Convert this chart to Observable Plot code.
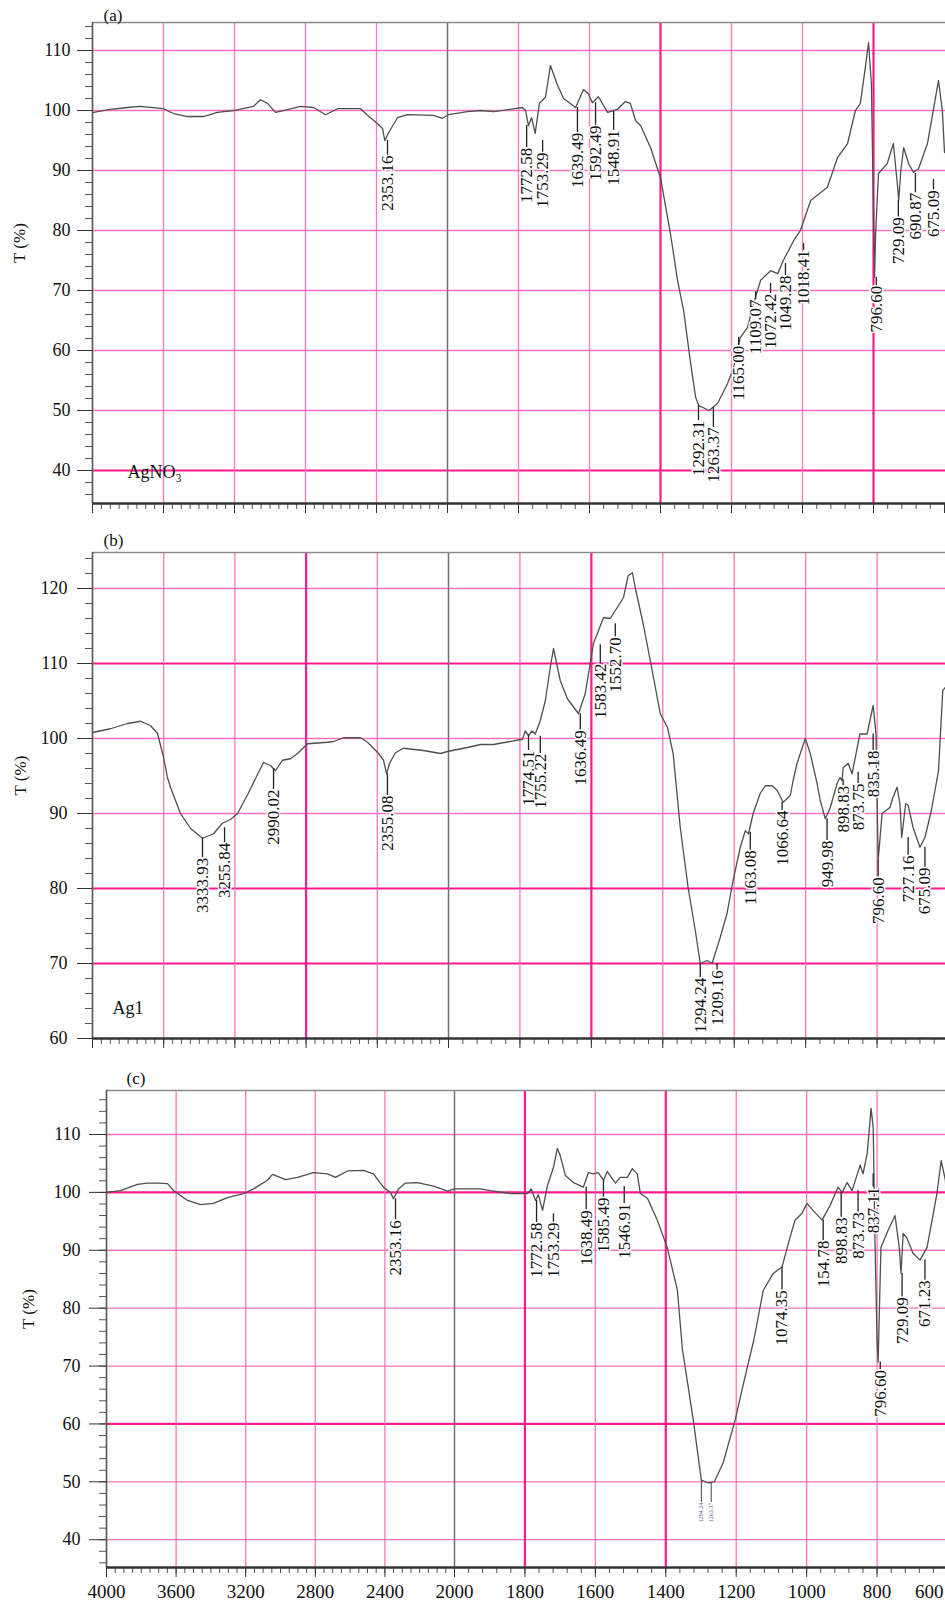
<!DOCTYPE html>
<html><head><meta charset="utf-8">
<script src="https://cdn.jsdelivr.net/npm/d3@7"></script>
<script src="https://cdn.jsdelivr.net/npm/@observablehq/plot@0.6"></script>
<style>
body{margin:0;background:#fff;}
#chart svg{display:block;}
</style></head><body><div id="chart"></div>
<script>
// ---------- data ----------
const xTickValues = [4000,3600,3200,2800,2400,2000,1800,1600,1400,1200,1000,800,600];
const xTickLabels = ["4000","3600","3200","2800","2400","2000","1800","1600","1400","1200","1000","800","600"];

// panel (a) AgNO3 : [wavenumber, T%]
const specA = [[3994,99.7],[3900,100.2],[3803,100.5],[3730,100.7],[3600,100.3],[3544,99.5],[3465,99.0],[3375,99.0],[3296,99.7],[3206,100],[3093,100.7],[3054,101.8],[3014,101.2],[2969,99.7],[2924,100],[2828,100.7],[2755,100.5],[2687,99.3],[2620,100.3],[2490,100.3],[2451,99.2],[2394,97.8],[2366,97],[2353,95],[2332,96.3],[2282,98.8],[2225,99.3],[2079,99.2],[2028,98.7],[1997,99.3],[1944,99.8],[1907,100],[1870,99.8],[1789,100.5],[1780,100],[1772,97.5],[1763,98.8],[1753,96.2],[1741,101.2],[1724,102.2],[1710,107.5],[1690,104.2],[1673,102],[1639,100.5],[1617,103.5],[1603,102.8],[1592,101.3],[1575,102.3],[1549,99.7],[1521,100.2],[1499,101.5],[1485,101.2],[1470,98.3],[1456,97.5],[1428,93.8],[1400,88.8],[1372,79.5],[1352,71.7],[1335,66.7],[1315,57.8],[1301,52.2],[1292,50.8],[1263,50],[1239,51.2],[1211,54.5],[1194,57.2],[1175,62.2],[1155,63.8],[1138,67.8],[1118,71.7],[1090,73.3],[1070,72.8],[1054,75],[1025,78.3],[1006,80],[977,85],[930,87.2],[901,92.2],[873,94.5],[851,100],[837,101.2],[823,107.2],[814,111.3],[806,104.5],[797,72.2],[794,79.5],[786,89.5],[761,91.2],[744,94.5],[732,87.2],[729,85],[723,90],[715,93.8],[700,91],[687,89.7],[673,90.3],[648,94.5],[617,105],[606,100],[600,93]];
// [label, wavenumber drawn at, leader start T, text top T]
const labelsA = [["2353.16",2338,95,92.5],["1772.58",1777,97.5,93.8],["1753.29",1732,95,93],["1639.49",1634,100.5,96.3],["1592.49",1583,101.3,97.5],["1548.91",1532,99.9,96.7],["1292.31",1293,50.8,48.3],["1263.37",1251,50.5,47.2],["1165.00",1180,62.2,60.8],["1109.07",1132,69.8,68.5],["1072.42",1090,71.2,69.5],["1049.28",1048,74.5,72.5],["1018.41",997,77.8,76.7],["796.60",792,72.2,70.8],["729.09",730,85,82.2],["690.87",682,89.5,86.3],["675.09",631,88.5,86.7]];

// panel (b) Ag1
const specB = [[4000,100.8],[3899,101.3],[3803,102],[3730,102.3],[3674,101.7],[3635,100.7],[3601,97.5],[3579,94.8],[3562,93.5],[3506,90],[3449,88],[3382,86.7],[3320,87.3],[3270,88.7],[3225,89.2],[3185,90],[3129,92.5],[3073,95.2],[3039,96.8],[3000,96.4],[2972,95.7],[2933,97.1],[2888,97.3],[2848,98],[2792,99.3],[2680,99.5],[2646,99.6],[2590,100.1],[2494,100.1],[2455,99.5],[2393,98],[2365,97.1],[2348,95.3],[2331,96.7],[2298,98.1],[2253,98.7],[2140,98.4],[2045,98],[2000,98.3],[1947,98.8],[1910,99.2],[1874,99.2],[1793,99.9],[1785,101],[1776,100.4],[1766,101],[1757,100.6],[1743,102.4],[1729,105],[1715,109.5],[1706,112],[1687,107.7],[1667,105.3],[1636,103.3],[1617,106],[1594,112.7],[1566,116.1],[1547,116],[1527,117.5],[1510,118.8],[1497,121.7],[1485,122.1],[1477,120.1],[1455,115.3],[1435,110.4],[1407,103.3],[1387,101.5],[1371,98],[1351,88.1],[1329,80.1],[1309,74.4],[1295,70],[1276,70.4],[1262,70],[1239,73.5],[1220,76.7],[1203,81.1],[1183,85.5],[1169,87.7],[1160,87.3],[1147,90],[1127,92.7],[1113,93.7],[1094,93.7],[1080,93.1],[1063,91.5],[1043,92.4],[1035,94.4],[1024,96.7],[1001,100],[987,98],[968,94],[959,91.7],[945,89.3],[931,90.8],[912,94],[904,94.8],[898,94.4],[895,96.1],[881,96.7],[870,95.3],[848,100.6],[828,100.6],[811,104.4],[803,100.6],[797,83.7],[786,90],[764,90.8],[756,92.1],[744,93.5],[736,91.3],[731,86.8],[720,91.3],[713,91.1],[699,88.1],[680,85.5],[666,86.8],[648,90.4],[628,95.7],[616,106.4],[606,107]];
const labelsB = [["3333.93",3382,86.7,84.1],["3255.84",3258,88.1,86.1],["2990.02",2983,96,93.2],["2355.08",2343,95.3,92.4],["1774.51",1776,100.4,98.4],["1755.22",1743,100.3,98],["1636.49",1631,103.3,101.1],["1583.42",1575,112.5,110],["1552.70",1533,115.3,113.5],["1294.24",1295,70,68.1],["1209.16",1248,70,69.1],["1163.08",1155,87.5,85.1],["1066.64",1066,91.5,90.4],["949.98",940,89.3,86.4],["898.83",895,94.5,93.7],["873.75",853,95.5,94],["835.18",811,100.6,98.4],["796.60",797,83.7,81.5],["727.16",713,86.8,84.4],["675.09",666,85.5,82.8]];

// panel (c)
const specC = [[4000,100],[3920,100.3],[3822,101.4],[3764,101.6],[3707,101.6],[3649,101.5],[3615,100.3],[3534,98.6],[3460,97.9],[3385,98.1],[3305,99.1],[3213,99.8],[3155,100.6],[3075,102.1],[3046,103.1],[3020,102.8],[2971,102.2],[2902,102.6],[2810,103.4],[2730,103.2],[2684,102.6],[2615,103.7],[2523,103.8],[2466,103.2],[2408,100.9],[2368,100],[2351,98.9],[2322,100.6],[2282,101.6],[2213,101.7],[2121,101.1],[2040,100.2],[2000,100.6],[1926,100.6],[1898,100.3],[1841,99.8],[1793,99.8],[1782,100.6],[1770,98.6],[1762,99.6],[1750,96.9],[1736,101.2],[1719,104.3],[1708,107.6],[1700,106.4],[1685,102.9],[1662,101.7],[1634,100.9],[1620,103.4],[1606,103.2],[1592,103.4],[1577,102.1],[1566,103.6],[1543,101.6],[1529,102.6],[1509,102.6],[1495,104.1],[1481,103.2],[1472,99.8],[1452,99],[1424,95.2],[1396,90.5],[1367,83.1],[1353,73],[1322,60.7],[1299,50.3],[1279,49.8],[1262,50],[1237,53.3],[1203,60.7],[1177,67.6],[1150,74.5],[1123,83.1],[1095,86],[1070,87.1],[1052,91.2],[1033,95.2],[1013,96.4],[999,98.1],[982,96.9],[956,95.2],[933,97.8],[911,100.9],[899,100],[885,101.7],[871,100.3],[848,104.7],[840,103.2],[828,106.7],[817,114.5],[811,111.2],[806,91.7],[800,74.5],[797,70.7],[789,90.5],[769,93.4],[749,96],[737,90.5],[732,86],[726,92.9],[716,92.2],[698,89.5],[678,88.3],[658,90.5],[630,99.8],[618,105.5],[606,102.1],[600,96]];
const labelsC = [["2353.16",2339,98.9,95.2],["1772.58",1767,98.6,94.8],["1753.29",1719,96.3,94.8],["1638.49",1626,100.9,96.9],["1585.49",1577,102.1,99.1],["1546.91",1518,101,98.1],["1074.35",1070,87.1,83.1],["154.78",953,95.2,91.7],["898.83",902,100,95.7],["873.73",854,100.3,96.6],["837.11",811,103.2,100.9],["796.60",791,70.7,69.3],["729.09",729,86,81.9],["671.23",664,88.3,84.8]];
const tinyLabelsC = [["1294.24",1299,50.3,46.4],["1263.37",1271,49.9,46.4]];

// ---------- drawing ----------
const PINK = "#ff74bc", PINK_DARK = "#ff1a8e";
const xMinor = d3.range(4000, 2000, -50).concat(d3.range(2000, 599, -40));
const xTicksData = xTickValues.map((w, i) => ({w, label: xTickLabels[i]}));
const font = "Liberation Serif, Times New Roman, serif";

function panel(cfg) {
  const data = cfg.spec.map(([w, t]) => ({w, t}));
  const lab = cfg.labels.map(([text, w, from, top]) => ({text, w, from, top}));
  const [y0, y1] = cfg.yDomain;
  const marks = [
    Plot.ruleY(cfg.hThin, {stroke: PINK, strokeWidth: 1.3}),
    Plot.ruleY(cfg.hThick, {stroke: PINK_DARK, strokeWidth: 2.2}),
    Plot.ruleX(cfg.vThin, {stroke: PINK, strokeWidth: 1.3}),
    Plot.ruleX(cfg.vThick, {stroke: PINK_DARK, strokeWidth: 2.2}),
    Plot.ruleX([2000], {stroke: "#707070", strokeWidth: 1.5}),
    Plot.ruleY([y1], {stroke: "#8a8a8a", strokeWidth: 1.6}),
    Plot.ruleX([4000], {stroke: "#555", strokeWidth: 1.6}),
    Plot.axisY({ticks: cfg.yMinor, tickSize: 7, tickFormat: () => "", label: null, stroke: "#555"}),
    Plot.axisY({ticks: cfg.yMajor, tickSize: cfg.yTickSize, tickPadding: cfg.yTickPad, fontSize: 18, label: null, stroke: "#333", fill: "#111", tickFormat: d => String(d)}),
    Plot.axisX({ticks: xMinor, tickSize: 6, tickFormat: () => "", label: null, stroke: "#555"}),
    Plot.axisX({ticks: xTickValues, tickSize: 10, tickFormat: () => "", label: null, stroke: "#333"}),
    Plot.ruleY([y0], {stroke: "#333", strokeWidth: 2.6}),
    Plot.line(data, {x: "w", y: "t", stroke: "#4f4f4f", strokeWidth: 1.3, clip: true}),
    Plot.ruleX(lab, {x: "w", y1: "from", y2: "top", stroke: "#222", strokeWidth: 1.3}),
    Plot.text(lab, {x: "w", y: "top", text: "text", rotate: -90, textAnchor: "end", fontSize: 17, fill: "#111", stroke: "white", strokeWidth: 3, paintOrder: "stroke"}),
    Plot.text([cfg.tag], {text: d => d, frameAnchor: "top-left", dx: cfg.tagDx, dy: cfg.tagDy, textAnchor: "start", lineAnchor: "middle", fontSize: 17, fill: "#111"}),
    Plot.text(["T (%)"], {text: d => d, frameAnchor: "left", dx: -cfg.yLabelOffset, rotate: -90, fontSize: 17, fill: "#111"}),
    Plot.text([cfg.name], {x: d => d.w, y: d => d.t, text: d => d.text, textAnchor: "start", lineAnchor: "middle", fontSize: 18, fill: "#111"})
  ];
  if (cfg.tiny) {
    const tiny = cfg.tiny.map(([text, w, from, top]) => ({text, w, from, top}));
    marks.push(Plot.ruleX(tiny, {x: "w", y1: "from", y2: "top", stroke: "#445", strokeWidth: 1}));
    marks.push(Plot.text(tiny, {x: "w", y: "top", text: "text", rotate: -90, textAnchor: "end", fontSize: 6, fill: "#5a6a8a"}));
  }
  if (cfg.xLabels) {
    marks.push(Plot.text(xTicksData.filter(d => d.w !== 600), {x: "w", text: "label", frameAnchor: "bottom", lineAnchor: "top", dy: 17, fontSize: 19, fill: "#111"}));
    marks.push(Plot.text(xTicksData.filter(d => d.w === 600), {x: "w", text: "label", frameAnchor: "bottom", lineAnchor: "top", dy: 17, dx: -4, textAnchor: "end", fontSize: 19, fill: "#111"}));
  }
  return Plot.plot({
    width: 945, height: cfg.height,
    marginLeft: cfg.xRange[0], marginRight: 0, marginTop: cfg.marginTop, marginBottom: cfg.marginBottom,
    style: {fontFamily: font, background: "white", overflow: "visible"},
    x: {type: "linear", domain: [4000, 2000, 600], range: cfg.xRange},
    y: {domain: cfg.yDomain},
    marks
  });
}

const chart = document.getElementById("chart");
chart.appendChild(panel({
  spec: specA, labels: labelsA, tag: "(a)", tagDx: 11, tagDy: -7,
  name: {w: 3803, t: 39.7, text: "AgNO₃"},
  yDomain: [34.5, 114.67], yMajor: [40,50,60,70,80,90,100,110], yMinor: d3.range(36, 115, 2),
  hThin: [50,60,70,80,90,100,110], hThick: [40],
  vThin: [3600,3200,2800,2400,1800,1600,1200,1000], vThick: [1400,800],
  xRange: [92, 447, 944], height: 530, marginTop: 22, marginBottom: 27,
  yTickSize: 15, yTickPad: 7, yLabelOffset: 73
}));
chart.appendChild(panel({
  spec: specB, labels: labelsB, tag: "(b)", tagDx: 11, tagDy: -12,
  name: {w: 3888, t: 64, text: "Ag1"},
  yDomain: [60, 124.8], yMajor: [60,70,80,90,100,110,120], yMinor: d3.range(60, 125, 2),
  hThin: [90,100,120], hThick: [70,80,110],
  vThin: [3600,3200,2400,1800,1400,1200,1000,800], vThick: [2800,1600],
  xRange: [92, 448, 948], height: 530, marginTop: 22, marginBottom: 22,
  yTickSize: 15, yTickPad: 10, yLabelOffset: 72
}));
chart.appendChild(panel({
  spec: specC, labels: labelsC, tiny: tinyLabelsC, tag: "(c)", tagDx: 20, tagDy: -12,
  name: {w: 4000, t: 0, text: ""},
  yDomain: [35.2, 117.6], yMajor: [40,50,60,70,80,90,100,110], yMinor: d3.range(36, 118, 2),
  hThin: [40,50,70,80,90,110], hThick: [60,100],
  vThin: [3600,3200,2800,2400,1600,1200,1000,800], vThick: [1800,1400],
  xRange: [106, 454, 947], height: 546, marginTop: 30, marginBottom: 39,
  yTickSize: 17, yTickPad: 9, yLabelOffset: 78, xLabels: true
}));
</script>
</body></html>
